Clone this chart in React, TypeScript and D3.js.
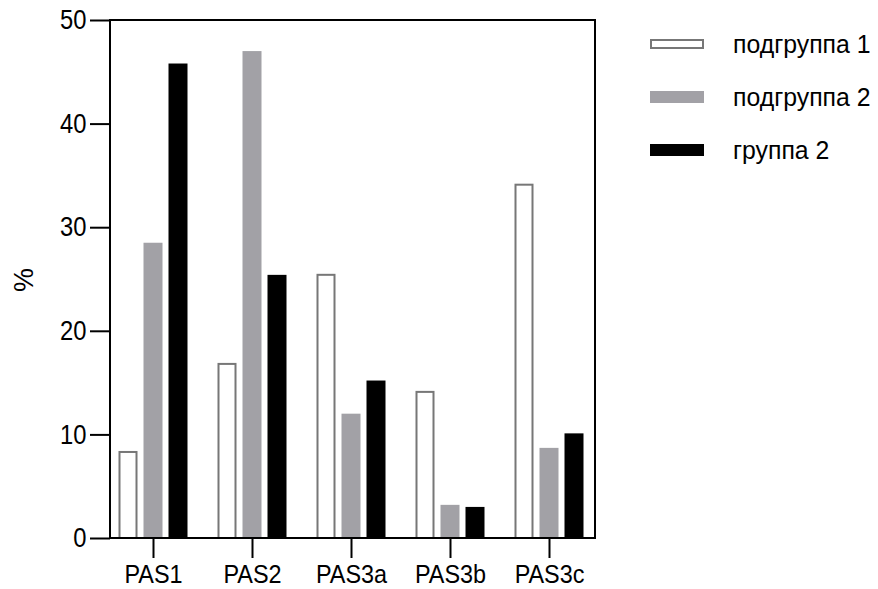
import React, { useEffect, useRef } from "react";
import * as d3 from "d3";

const categories = ["PAS1", "PAS2", "PAS3a", "PAS3b", "PAS3c"];
const seriesNames = ["подгруппа 1", "подгруппа 2", "группа 2"];
const subgroup1 = [8.4, 16.9, 25.5, 14.2, 34.2];
const subgroup2 = [28.5, 47.0, 12.0, 3.2, 8.7];
const group2 = [45.8, 25.4, 15.2, 3.0, 10.1];
const yTicks = [0, 10, 20, 30, 40, 50];

const fills = ["#ffffff", "#a2a1a6", "#000000"];
const strokes = ["#777777", "none", "none"];

function App() {
  const ref = useRef<SVGSVGElement>(null);

  useEffect(() => {
    const svg = d3.select(ref.current);
    svg.selectAll("*").remove();

    const left = 110;
    const right = 595;
    const top = 20;
    const bottom = 538;
    const font = "Liberation Sans, Arial, sans-serif";
    const sx = 0.88; // the original lettering is a bit condensed

    const x = d3.scalePoint().domain(categories).range([153, 549]);
    const y = d3.scaleLinear().domain([0, 50]).range([bottom, top]);
    const offset = d3.scalePoint().domain(seriesNames).range([-25, 25]);
    const barW = 19;

    const series = [subgroup1, subgroup2, group2];

    const g = svg.append("g");

    series.forEach((vals, si) => {
      const inset = si === 0 ? 1 : 0;
      g.selectAll(".bar" + si)
        .data(vals)
        .join("rect")
        .attr("x", (d, i) => x(categories[i])! + offset(seriesNames[si])! - barW / 2 + inset)
        .attr("y", (d) => y(d) + inset)
        .attr("width", barW - 2 * inset)
        .attr("height", (d) => bottom - y(d) - inset)
        .attr("fill", fills[si])
        .attr("stroke", strokes[si])
        .attr("stroke-width", 2);
    });

    // frame top + right
    g.append("path")
      .attr("d", `M${left},${top}H${right}V${bottom}`)
      .attr("fill", "none")
      .attr("stroke", "#000")
      .attr("stroke-width", 2);

    const yAxis = g
      .append("g")
      .attr("transform", `translate(${left},0)`)
      .call(d3.axisLeft(y).tickValues(yTicks).tickSize(20).tickPadding(3).tickSizeOuter(0));
    yAxis.select(".domain").attr("stroke-width", 2).attr("d", `M0,${bottom + 1}V${top - 1}`);
    yAxis.selectAll(".tick line").attr("stroke-width", 2);
    yAxis
      .selectAll(".tick text")
      .attr("font-size", 27)
      .attr("font-family", font)
      .attr("fill", "#000")
      .attr("x", -23.5 / sx)
      .attr("transform", `scale(${sx},1)`);

    const xAxis = g
      .append("g")
      .attr("transform", `translate(0,${bottom})`)
      .call(d3.axisBottom(x).tickSize(20).tickPadding(7).tickSizeOuter(0));
    xAxis.select(".domain").attr("stroke-width", 2).attr("d", `M${left - 1},0H${right + 1}`);
    xAxis.selectAll(".tick line").attr("stroke-width", 2);
    xAxis
      .selectAll(".tick text")
      .attr("font-size", 26)
      .attr("font-family", font)
      .attr("fill", "#000")
      .attr("transform", `scale(${sx + 0.02},1)`);

    g.append("text")
      .attr("transform", "translate(33,280) rotate(-90)")
      .attr("text-anchor", "middle")
      .attr("font-size", 27)
      .attr("font-family", font)
      .text("%");

    const legendY = d3.scalePoint().domain(seriesNames).range([44, 150]);
    const lg = g.append("g");
    seriesNames.forEach((name, si) => {
      const cy = legendY(name)!;
      if (si === 0) {
        lg.append("rect")
          .attr("x", 651)
          .attr("y", cy - 4)
          .attr("width", 52)
          .attr("height", 8)
          .attr("fill", "#fff")
          .attr("stroke", "#777")
          .attr("stroke-width", 2);
      } else {
        lg.append("rect")
          .attr("x", 650)
          .attr("y", cy - 6)
          .attr("width", 54)
          .attr("height", 12)
          .attr("fill", fills[si]);
      }
      lg.append("text")
        .attr("x", 733 / 0.955)
        .attr("y", cy)
        .attr("dy", "0.35em")
        .attr("font-size", 26)
        .attr("font-family", font)
        .attr("transform", "scale(0.955,1)")
        .text(name);
    });
  }, []);

  return (
    <svg
      ref={ref}
      width={878}
      height={589}
      style={{ position: "absolute", left: 0, top: 0, background: "#fff" }}
    />
  );
}

export default App;
